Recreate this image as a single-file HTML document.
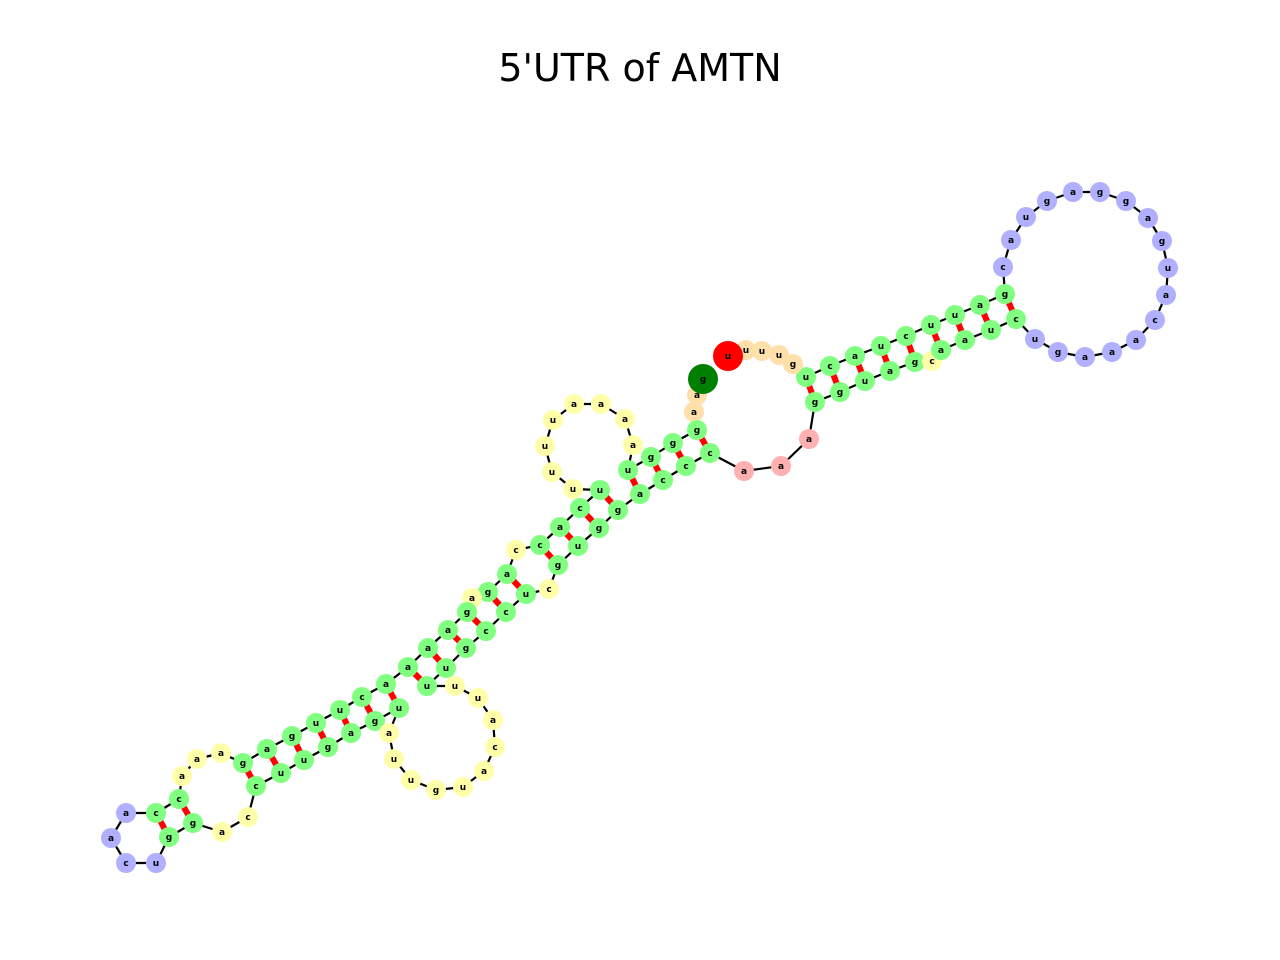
<!DOCTYPE html>
<html><head><meta charset="utf-8"><style>
html,body{margin:0;padding:0;background:#fff;}
svg{display:block;}
text{font-family:"DejaVu Sans","Liberation Sans",sans-serif;}
</style></head><body>
<svg id="chart" width="1280" height="960" viewBox="0 0 1280 960">
<text x="640" y="81" text-anchor="middle" font-size="38" fill="#000">5'UTR of AMTN</text>
<g id="edges"></g>
<g id="pairs"></g>
<g id="nodes"></g>
</svg>
<script>
const bases = "gaagggu aaaauuuu ucaccagagaaaa cuugagaaacc aacu ggaccuugagu auuguacauu uugccucguggaccc aaa gguagcaauc ugaaacaugaggaguac gauucuacu guuuu".replace(/ /g,"").split("");
const xs = [703,697,694,697,673,651,628,633,625,601,574,553,545,552,573,600,580,560,540,516,507,488,472,467,448,428,408,386,362,340,316,292,267,243,221,197,182,179,156,126,111,126,156,169,193,222,248,256,281,304,328,351,375,399,389,394,411,436,463,484,495,493,478,455,427,446,466,486,506,526,549,558,578,599,618,640,663,686,710,744,781,809,815,840,865,890,915,932,941,965,991,1016,1035,1058,1085,1112,1136,1155,1166,1168,1162,1148,1126,1100,1073,1047,1026,1011,1003,1005,980,955,931,906,881,855,830,806,793,779,762,746,728];
const ys = [379,395,412,430,443,457,470,445,419,404,404,420,446,472,489,490,508,527,545,550,574,592,598,612,630,648,667,684,697,710,723,736,749,763,753,759,776,799,813,813,838,863,863,837,823,832,817,786,773,760,747,733,721,708,733,759,780,790,787,771,747,720,698,686,686,668,648,631,612,594,589,565,546,528,510,494,480,466,453,471,466,439,402,392,381,371,362,361,350,340,330,319,339,352,357,352,340,320,295,268,241,218,201,192,192,201,217,240,267,294,305,315,325,336,346,356,366,377,364,355,351,350,356];
const colors = ["dkgreen","peach","peach","stem","stem","stem","stem","yellow","yellow","yellow","yellow","yellow","yellow","yellow","yellow","stem","stem","stem","stem","yellow","stem","stem","yellow","stem","stem","stem","stem","stem","stem","stem","stem","stem","stem","stem","yellow","yellow","yellow","stem","stem","blue","blue","blue","blue","stem","stem","yellow","yellow","stem","stem","stem","stem","stem","stem","stem","yellow","yellow","yellow","yellow","yellow","yellow","yellow","yellow","yellow","yellow","stem","stem","stem","stem","stem","stem","yellow","stem","stem","stem","stem","stem","stem","stem","stem","pink","pink","pink","stem","stem","stem","stem","stem","yellow","stem","stem","stem","stem","blue","blue","blue","blue","blue","blue","blue","blue","blue","blue","blue","blue","blue","blue","blue","blue","blue","stem","stem","stem","stem","stem","stem","stem","stem","stem","peach","peach","peach","peach","red"];
const pairs = [[3,78],[4,77],[5,76],[6,75],[15,74],[16,73],[17,72],[18,71],[20,69],[21,68],[23,67],[24,66],[25,65],[26,64],[27,53],[28,52],[29,51],[30,50],[31,49],[32,48],[33,47],[37,44],[38,43],[82,117],[83,116],[84,115],[85,114],[86,113],[88,112],[89,111],[90,110],[91,109]];
</script>
<script>
const NS = "http://www.w3.org/2000/svg";
const fillMap = {stem:"#80ff80",yellow:"#ffffaa",blue:"#b0b0ff",pink:"#ffb0b0",peach:"#ffdfaa",dkgreen:"#008000",red:"#ff0000"};
const eg = document.getElementById("edges"), pg = document.getElementById("pairs"), ng = document.getElementById("nodes");
const N = Math.min(bases.length, xs.length, ys.length);
function px(i){return xs[i];}
function py(i){return ys[i];}
for (let i = 0; i < N - 1; i++) {
  const l = document.createElementNS(NS, "line");
  l.setAttribute("x1", px(i)); l.setAttribute("y1", py(i));
  l.setAttribute("x2", px(i+1)); l.setAttribute("y2", py(i+1));
  l.setAttribute("stroke", "#000"); l.setAttribute("stroke-width", "2.2");
  
  
  eg.appendChild(l);
}
pairs.forEach(p => {
  if (p[0] >= N || p[1] >= N) return;
  const l = document.createElementNS(NS, "line");
  l.setAttribute("x1", px(p[0])); l.setAttribute("y1", py(p[0]));
  l.setAttribute("x2", px(p[1])); l.setAttribute("y2", py(p[1]));
  l.setAttribute("stroke", "#ff0000"); l.setAttribute("stroke-width", "6");
  
  
  pg.appendChild(l);
});
const order = [];
for (let i = 1; i < N - 1; i++) order.push(i);
order.push(0, N - 1);
order.forEach(i => {
  const g = document.createElementNS(NS, "g");
  
  
  const big = (i === 0 || i === N - 1);
  const c = document.createElementNS(NS, "circle");
  c.setAttribute("cx", px(i)); c.setAttribute("cy", py(i));
  c.setAttribute("r", big ? 15 : 10);
  c.setAttribute("fill", fillMap[colors[i]] || "#80ff80");
  g.appendChild(c);
  const t = document.createElementNS(NS, "text");
  t.setAttribute("x", px(i)); t.setAttribute("y", py(i) + 3);
  t.setAttribute("text-anchor", "middle");
  t.setAttribute("font-size", "9"); t.setAttribute("font-weight", "bold");
  t.setAttribute("fill", "#000");
  t.textContent = bases[i];
  g.appendChild(t);
  ng.appendChild(g);
});
</script>
</body></html>
